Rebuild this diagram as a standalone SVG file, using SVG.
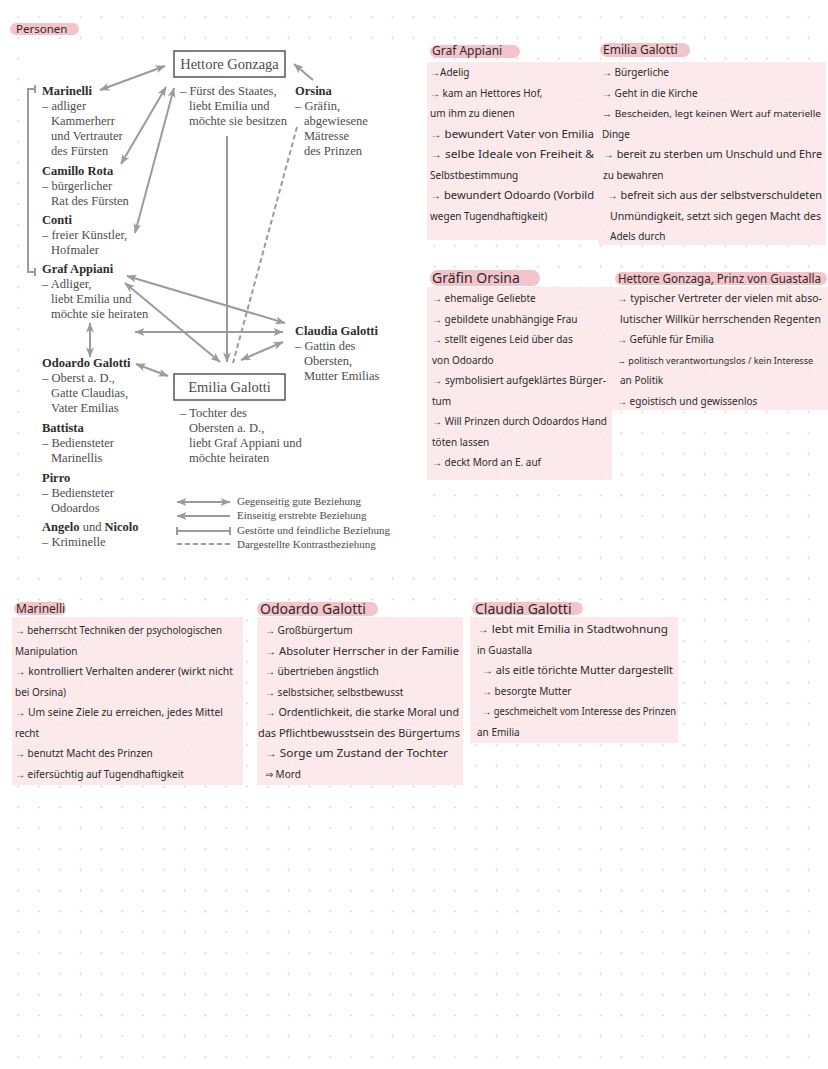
<svg xmlns="http://www.w3.org/2000/svg" width="828" height="1069" viewBox="0 0 828 1069">
<defs>
<pattern id="dots" x="7.9" y="6.7" width="20.8" height="20.8" patternUnits="userSpaceOnUse">
<circle cx="10.4" cy="10.4" r="0.9" fill="#cdcdcd"/>
</pattern>
<marker id="ah" viewBox="0 0 10 8" refX="9.5" refY="4" markerWidth="11" markerHeight="8" markerUnits="userSpaceOnUse" orient="auto-start-reverse">
<path d="M0,0 L10,4 L0,8 L2.5,4 z" fill="#9b9b9b"/>
</marker>
</defs>
<style>
.pr{font-family:"Liberation Serif",serif;fill:#4d4d4d;font-size:12.5px}
.pb{font-weight:bold;fill:#2e2e2e}
.hd{font-size:14.5px;text-anchor:middle}
.lg{font-size:11px}
.ln{stroke:#9b9b9b;stroke-width:2;fill:none}
.dd{stroke-dasharray:5,3}
.nt{font-family:"Noto Sans",sans-serif;font-size:10px;fill:#2b2b2b}
.tt{font-family:"Noto Sans",sans-serif;font-size:12px;fill:#2b2b2b}
.tl{font-size:14px}
.sm{font-size:9px}
.bx{fill:#fbe3e6;opacity:.8}
.pl{fill:#f5c3ca}
.nb{fill:#fff;stroke:#555;stroke-width:1.5}
</style>
<rect width="828" height="1069" fill="#fff"/>
<rect width="828" height="1069" fill="url(#dots)"/>
<rect x="22" y="42" width="393" height="518" fill="#fff"/>

<g id="personen-label">
<rect class="pl" x="10" y="23" width="69" height="12" rx="6"/>
<text class="tt" x="16" y="33" style="font-size:11.5px">Personen</text>
</g>

<g id="connectors">
<path class="ln" d="M100,90 L165,66" marker-start="url(#ah)" marker-end="url(#ah)"/>
<path class="ln" d="M121,164 L166,87" marker-start="url(#ah)" marker-end="url(#ah)"/>
<path class="ln" d="M135,233 L174,88" marker-start="url(#ah)" marker-end="url(#ah)"/>
<path class="ln" d="M313,80 L294,64" marker-end="url(#ah)"/>
<path class="ln" d="M227,136 L227,362" marker-end="url(#ah)"/>
<path class="ln dd" d="M297,127 L233,363"/>
<path class="ln" d="M127,276 L285,323" marker-start="url(#ah)" marker-end="url(#ah)"/>
<path class="ln" d="M125,283 L220,362" marker-start="url(#ah)" marker-end="url(#ah)"/>
<path class="ln" d="M135,332 L283,332" marker-start="url(#ah)" marker-end="url(#ah)"/>
<path class="ln" d="M90,323 L90,357" marker-start="url(#ah)" marker-end="url(#ah)"/>
<path class="ln" d="M136,364 L168,376" marker-start="url(#ah)" marker-end="url(#ah)"/>
<path class="ln" d="M241,360 L283,342" marker-start="url(#ah)" marker-end="url(#ah)"/>
<path class="ln" d="M35,85 V93 M35,89 H28 V272 H35 M35,268 V276"/>
</g>

<g id="hettore-gonzaga">
<rect class="nb" x="174" y="51" width="111" height="26"/>
<text class="pr hd" x="229.5" y="69">Hettore Gonzaga</text>
<text class="pr"><tspan x="180" y="95">– Fürst des Staates,</tspan><tspan x="189" y="110">liebt Emilia und</tspan><tspan x="189" y="125">möchte sie besitzen</tspan></text>
</g>
<g id="emilia-galotti">
<rect class="nb" x="174" y="374" width="111" height="26"/>
<text class="pr hd" x="229.5" y="392">Emilia Galotti</text>
<text class="pr"><tspan x="180" y="417">– Tochter des</tspan><tspan x="189" y="432">Obersten a. D.,</tspan><tspan x="189" y="447">liebt Graf Appiani und</tspan><tspan x="189" y="462">möchte heiraten</tspan></text>
</g>
<g id="orsina">
<text class="pr"><tspan class="pb" x="295" y="95">Orsina</tspan><tspan x="295" y="110">– Gräfin,</tspan><tspan x="304" y="125">abgewiesene</tspan><tspan x="304" y="140">Mätresse</tspan><tspan x="304" y="155">des Prinzen</tspan></text>
</g>
<g id="marinelli">
<text class="pr"><tspan class="pb" x="42" y="95">Marinelli</tspan><tspan x="42" y="110">– adliger</tspan><tspan x="51" y="125">Kammerherr</tspan><tspan x="51" y="140">und Vertrauter</tspan><tspan x="51" y="155">des Fürsten</tspan></text>
</g>
<g id="camillo-rota">
<text class="pr"><tspan class="pb" x="42" y="175">Camillo Rota</tspan><tspan x="42" y="190">– bürgerlicher</tspan><tspan x="51" y="205">Rat des Fürsten</tspan></text>
</g>
<g id="conti">
<text class="pr"><tspan class="pb" x="42" y="224">Conti</tspan><tspan x="42" y="239">– freier Künstler,</tspan><tspan x="51" y="254">Hofmaler</tspan></text>
</g>
<g id="graf-appiani">
<text class="pr"><tspan class="pb" x="42" y="273">Graf Appiani</tspan><tspan x="42" y="288">– Adliger,</tspan><tspan x="51" y="303">liebt Emilia und</tspan><tspan x="51" y="318">möchte sie heiraten</tspan></text>
</g>
<g id="odoardo-galotti">
<text class="pr"><tspan class="pb" x="42" y="367">Odoardo Galotti</tspan><tspan x="42" y="382">– Oberst a. D.,</tspan><tspan x="51" y="397">Gatte Claudias,</tspan><tspan x="51" y="412">Vater Emilias</tspan></text>
</g>
<g id="claudia-galotti">
<text class="pr"><tspan class="pb" x="295" y="335">Claudia Galotti</tspan><tspan x="295" y="350">– Gattin des</tspan><tspan x="304" y="365">Obersten,</tspan><tspan x="304" y="380">Mutter Emilias</tspan></text>
</g>
<g id="battista">
<text class="pr"><tspan class="pb" x="42" y="432">Battista</tspan><tspan x="42" y="447">– Bediensteter</tspan><tspan x="51" y="462">Marinellis</tspan></text>
</g>
<g id="pirro">
<text class="pr"><tspan class="pb" x="42" y="482">Pirro</tspan><tspan x="42" y="497">– Bediensteter</tspan><tspan x="51" y="512">Odoardos</tspan></text>
</g>
<g id="angelo-nicolo">
<text class="pr"><tspan class="pb" x="42" y="531">Angelo</tspan> und <tspan class="pb">Nicolo</tspan><tspan x="42" y="546">– Kriminelle</tspan></text>
</g>

<g id="legend">
<path class="ln" d="M177,502 H230" marker-start="url(#ah)" marker-end="url(#ah)"/>
<path class="ln" d="M177,516 H230" marker-start="url(#ah)"/>
<path class="ln" d="M177,531 H230 M177,527 V535 M230,527 V535"/>
<path class="ln dd" d="M177,544 H230"/>
<text class="pr lg"><tspan x="237" y="505">Gegenseitig gute Beziehung</tspan><tspan x="237" y="519">Einseitig erstrebte Beziehung</tspan><tspan x="237" y="533.5">Gestörte und feindliche Beziehung</tspan><tspan x="237" y="548">Dargestellte Kontrastbeziehung</tspan></text>
</g>

<g id="note-graf-appiani">
<rect class="bx" x="427" y="62" width="171" height="178"/>
<rect class="pl" x="430" y="45" width="90" height="13" rx="6.5"/>
<text class="tt" x="432" y="55">Graf Appiani</text>
<text class="nt" x="430" y="76">→Adelig</text>
<text class="nt" x="430" y="96.5">→ kam an Hettores Hof,</text>
<text class="nt" x="430" y="117">um ihm zu dienen</text>
<text class="nt" x="430" y="137.5" textLength="164" lengthAdjust="spacingAndGlyphs">→ bewundert Vater von Emilia</text>
<text class="nt" x="430" y="158" textLength="164" lengthAdjust="spacingAndGlyphs">→ selbe Ideale von Freiheit &amp;</text>
<text class="nt" x="430" y="178.5">Selbstbestimmung</text>
<text class="nt" x="430" y="199" textLength="164" lengthAdjust="spacingAndGlyphs">→ bewundert Odoardo (Vorbild</text>
<text class="nt" x="430" y="219.5">wegen Tugendhaftigkeit)</text>
</g>

<g id="note-emilia-galotti">
<rect class="bx" x="598" y="62" width="228" height="183"/>
<rect class="pl" x="600" y="43" width="90" height="14" rx="7"/>
<text class="tt" x="603" y="54">Emilia Galotti</text>
<text class="nt" x="602" y="76">→ Bürgerliche</text>
<text class="nt" x="602" y="96.5">→ Geht in die Kirche</text>
<text class="nt sm" x="602" y="117" textLength="219" lengthAdjust="spacingAndGlyphs">→ Bescheiden, legt keinen Wert auf materielle</text>
<text class="nt" x="602" y="137.5">Dinge</text>
<text class="nt" x="603" y="158" textLength="219" lengthAdjust="spacingAndGlyphs">→ bereit zu sterben um Unschuld und Ehre</text>
<text class="nt" x="603" y="178.5">zu bewahren</text>
<text class="nt" x="607" y="199" textLength="215" lengthAdjust="spacingAndGlyphs">→ befreit sich aus der selbstverschuldeten</text>
<text class="nt" x="610" y="219.5" textLength="211" lengthAdjust="spacingAndGlyphs">Unmündigkeit, setzt sich gegen Macht des</text>
<text class="nt" x="610" y="240">Adels durch</text>
</g>

<g id="note-graefin-orsina">
<rect class="bx" x="427" y="287" width="185" height="193"/>
<rect class="pl" x="430" y="270" width="110" height="16" rx="8"/>
<text class="tt tl" x="432" y="283">Gräfin Orsina</text>
<text class="nt" x="432" y="302">→ ehemalige Geliebte</text>
<text class="nt" x="432" y="322.5">→ gebildete unabhängige Frau</text>
<text class="nt" x="432" y="343">→ stellt eigenes Leid über das</text>
<text class="nt" x="432" y="363.5">von Odoardo</text>
<text class="nt" x="432" y="384" textLength="174" lengthAdjust="spacingAndGlyphs">→ symbolisiert aufgeklärtes Bürger-</text>
<text class="nt" x="432" y="404.5">tum</text>
<text class="nt" x="432" y="425" textLength="175" lengthAdjust="spacingAndGlyphs">→ Will Prinzen durch Odoardos Hand</text>
<text class="nt" x="432" y="445.5">töten lassen</text>
<text class="nt" x="432" y="466">→ deckt Mord an E. auf</text>
</g>

<g id="note-hettore-gonzaga">
<rect class="bx" x="612" y="287" width="216" height="123"/>
<rect class="pl" x="615" y="272" width="212" height="13" rx="6.5"/>
<text class="tt" x="618" y="283" textLength="203" lengthAdjust="spacingAndGlyphs">Hettore Gonzaga, Prinz von Guastalla</text>
<text class="nt" x="617" y="302" textLength="205" lengthAdjust="spacingAndGlyphs">→ typischer Vertreter der vielen mit abso-</text>
<text class="nt" x="620" y="322.5" textLength="201" lengthAdjust="spacingAndGlyphs">lutischer Willkür herrschenden Regenten</text>
<text class="nt" x="617" y="343">→ Gefühle für Emilia</text>
<text class="nt" x="617" y="363.5" style="font-size:9px">→ politisch verantwortungslos / kein Interesse</text>
<text class="nt" x="620" y="384">an Politik</text>
<text class="nt" x="617" y="404.5">→ egoistisch und gewissenlos</text>
</g>

<g id="note-marinelli">
<rect class="bx" x="12" y="617" width="231" height="168"/>
<rect class="pl" x="14" y="602" width="52" height="13" rx="6.5"/>
<text class="tt" x="16" y="613">Marinelli</text>
<text class="nt" x="15" y="634" textLength="207" lengthAdjust="spacingAndGlyphs">→ beherrscht Techniken der psychologischen</text>
<text class="nt" x="15" y="654.5">Manipulation</text>
<text class="nt" x="15" y="675" textLength="218" lengthAdjust="spacingAndGlyphs">→ kontrolliert Verhalten anderer (wirkt nicht</text>
<text class="nt" x="15" y="695.5">bei Orsina)</text>
<text class="nt" x="15" y="716" textLength="208" lengthAdjust="spacingAndGlyphs">→ Um seine Ziele zu erreichen, jedes Mittel</text>
<text class="nt" x="15" y="736.5">recht</text>
<text class="nt" x="15" y="757">→ benutzt Macht des Prinzen</text>
<text class="nt" x="15" y="777.5">→ eifersüchtig auf Tugendhaftigkeit</text>
</g>

<g id="note-odoardo-galotti">
<rect class="bx" x="257" y="617" width="206" height="168"/>
<rect class="pl" x="257" y="602" width="121" height="14" rx="7"/>
<text class="tt tl" x="260" y="614">Odoardo Galotti</text>
<text class="nt" x="265" y="634">→ Großbürgertum</text>
<text class="nt" x="265" y="654.5" textLength="194" lengthAdjust="spacingAndGlyphs">→ Absoluter Herrscher in der Familie</text>
<text class="nt" x="265" y="675">→ übertrieben ängstlich</text>
<text class="nt" x="265" y="695.5">→ selbstsicher, selbstbewusst</text>
<text class="nt" x="265" y="716" textLength="194" lengthAdjust="spacingAndGlyphs">→ Ordentlichkeit, die starke Moral und</text>
<text class="nt" x="258" y="736.5" textLength="202" lengthAdjust="spacingAndGlyphs">das Pflichtbewusstsein des Bürgertums</text>
<text class="nt" x="265" y="757" textLength="183" lengthAdjust="spacingAndGlyphs">→ Sorge um Zustand der Tochter</text>
<text class="nt" x="265" y="777.5">⇒ Mord</text>
</g>

<g id="note-claudia-galotti">
<rect class="bx" x="470" y="617" width="208" height="126"/>
<rect class="pl" x="472" y="602" width="111" height="13" rx="6.5"/>
<text class="tt tl" x="475" y="614">Claudia Galotti</text>
<text class="nt" x="477" y="633" textLength="191" lengthAdjust="spacingAndGlyphs">→ lebt mit Emilia in Stadtwohnung</text>
<text class="nt" x="477" y="653.5">in Guastalla</text>
<text class="nt" x="482" y="674" textLength="191" lengthAdjust="spacingAndGlyphs">→ als eitle törichte Mutter dargestellt</text>
<text class="nt" x="482" y="694.5">→ besorgte Mutter</text>
<text class="nt" x="482" y="715" textLength="194" lengthAdjust="spacingAndGlyphs">→ geschmeichelt vom Interesse des Prinzen</text>
<text class="nt" x="477" y="735.5">an Emilia</text>
</g>
</svg>
